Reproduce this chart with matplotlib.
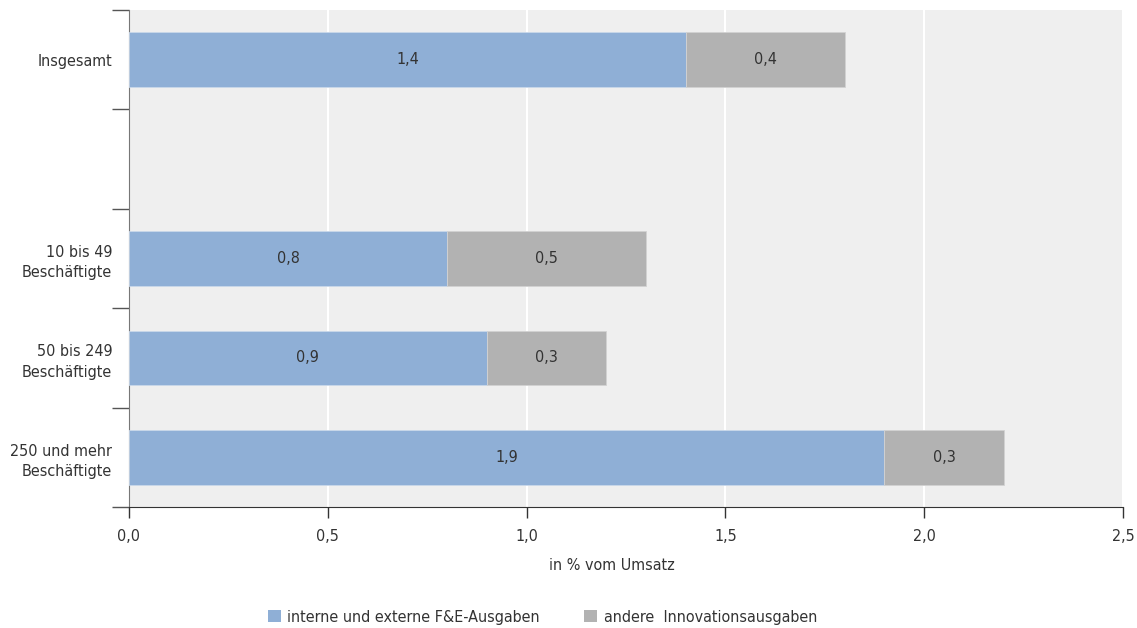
import numpy as np
import matplotlib.pyplot as plt
from matplotlib.patches import Patch

# data (top to bottom), empty slot between total and size classes
categories = ["Insgesamt", "", "10 bis 49\nBeschäftigte", "50 bis 249\nBeschäftigte",
              "250 und mehr\nBeschäftigte"]
fue = [1.4, np.nan, 0.8, 0.9, 1.9]
andere = [0.4, np.nan, 0.5, 0.3, 0.3]
series_names = ["interne und externe F&E-Ausgaben", "andere  Innovationsausgaben"]
x_ticks = [0.0, 0.5, 1.0, 1.5, 2.0, 2.5]

plt.rcParams["font.family"] = ["DejaVu Sans"]
plt.rcParams["font.stretch"] = "condensed"
text_color = "#333333"
colors = ["#8FAFD6", "#B2B2B2"]
fs = 11.5

fig = plt.figure(figsize=(11.37, 6.28), dpi=100)
ax = fig.add_axes([129 / 1137, 121 / 628, 994 / 1137, 497 / 628])
ax.set_facecolor("#EFEFEF")

y = np.arange(len(categories))
fue_arr = np.array(fue)
andere_arr = np.array(andere)
bh = 0.55
ax.barh(y, fue_arr, height=bh, color=colors[0], edgecolor="#C9D8EA", linewidth=0.6, zorder=3)
ax.barh(y, andere_arr, left=fue_arr, height=bh, color=colors[1], edgecolor="#D2D2D2",
        linewidth=0.6, zorder=3)

for i in range(len(categories)):
    if np.isnan(fue_arr[i]):
        continue
    ax.text(fue_arr[i] / 2, y[i], f"{fue_arr[i]:.1f}".replace(".", ","), ha="center",
            va="center", fontsize=fs, color=text_color, zorder=4)
    ax.text(fue_arr[i] + andere_arr[i] / 2, y[i], f"{andere_arr[i]:.1f}".replace(".", ","),
            ha="center", va="center", fontsize=fs, color=text_color, zorder=4)

ax.set_xlim(0, 2.5)
ax.set_ylim(len(categories) - 0.5, -0.5)
ax.set_xticks(x_ticks)
ax.set_xticklabels([f"{t:.1f}".replace(".", ",") for t in x_ticks], fontsize=fs,
                   color=text_color)
ax.xaxis.grid(True, color="white", linewidth=1.5, zorder=1)
ax.set_axisbelow(True)

# boundary ticks on y, labels at bar centres
ax.set_yticks(np.arange(-0.5, len(categories), 1.0))
ax.set_yticklabels([])
ax.set_yticks(y, minor=True)
ax.set_yticklabels(categories, minor=True, fontsize=fs, color=text_color,
                   linespacing=1.45)
ax.tick_params(axis="y", which="major", length=12, color="#555555", width=1)
ax.tick_params(axis="y", which="minor", length=0, pad=12)
ax.tick_params(axis="x", length=8, color="#333333", width=1, pad=8)

for side in ["top", "right"]:
    ax.spines[side].set_visible(False)
ax.spines["left"].set_color("#777777")
ax.spines["bottom"].set_color("#333333")

ax.set_xlabel("in % vom Umsatz", fontsize=fs, color=text_color)
ax.xaxis.set_label_coords(0.486, -0.103)

handles = [Patch(facecolor=c, edgecolor="none") for c in colors]
fig.legend(handles, series_names, loc="center", bbox_to_anchor=(0.477, 0.017),
           ncol=2, frameon=False, fontsize=fs, handlelength=0.8, handleheight=0.8,
           handletextpad=0.4, columnspacing=2.8, labelcolor=text_color)

fig.savefig("out.png", dpi=100)
